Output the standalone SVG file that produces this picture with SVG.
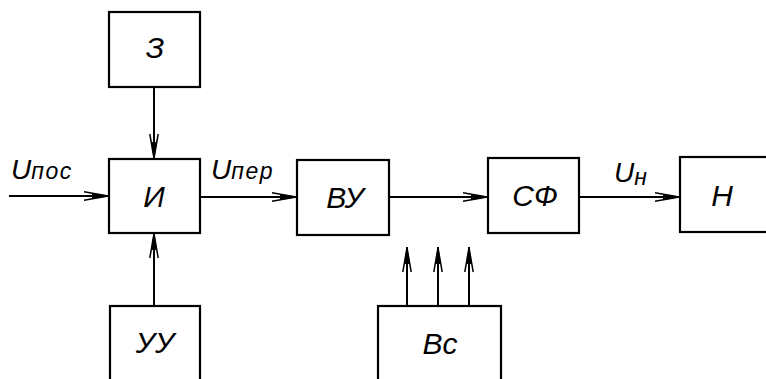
<svg xmlns="http://www.w3.org/2000/svg" width="766" height="379" viewBox="0 0 766 379">
<style>
.box{fill:#fff;stroke:#000;stroke-width:2.2}
.ln{stroke:#000;stroke-width:2;fill:none}
.t{font-family:"Liberation Sans",Arial,sans-serif;font-style:italic;font-size:30px;fill:#000;text-anchor:middle}
.lbl{font-family:"Liberation Sans",Arial,sans-serif;font-style:italic;font-size:28px;fill:#000}
.sub{font-size:23px;letter-spacing:1.5px}
</style>
<defs>
<marker id="ar" viewBox="0 0 26 12" refX="26" refY="6" markerWidth="26" markerHeight="12" markerUnits="userSpaceOnUse" orient="auto">
<path d="M1,1.8 L25,6 L1,10.2" fill="none" stroke="#000" stroke-width="1.5"/>
<path d="M9,3.6 L17,4 L26,6 L17,8 L9,8.4 Z" fill="#000"/>
</marker>
</defs>
<g id="connectors">
<line class="ln" x1="9" y1="196" x2="109" y2="196" marker-end="url(#ar)"/>
<line class="ln" x1="154" y1="87" x2="154" y2="159" marker-end="url(#ar)"/>
<line class="ln" x1="154" y1="306" x2="154" y2="233" marker-end="url(#ar)"/>
<line class="ln" x1="200" y1="197" x2="297" y2="197" marker-end="url(#ar)"/>
<line class="ln" x1="389" y1="197" x2="488" y2="197" marker-end="url(#ar)"/>
<line class="ln" x1="579" y1="197" x2="680" y2="197" marker-end="url(#ar)"/>
<line class="ln" x1="407" y1="306" x2="407" y2="247" marker-end="url(#ar)"/>
<line class="ln" x1="438" y1="306" x2="438" y2="247" marker-end="url(#ar)"/>
<line class="ln" x1="469" y1="306" x2="469" y2="247" marker-end="url(#ar)"/>
<text class="lbl" x="11" y="179">U<tspan class="sub">пос</tspan></text>
<text class="lbl" x="211" y="179">U<tspan class="sub">пер</tspan></text>
<text class="lbl" x="614" y="182">U<tspan class="sub" dy="3">н</tspan></text>
</g>
<g id="node-z"><rect class="box" x="109" y="12" width="91" height="75"/><text class="t" x="155" y="58">З</text></g>
<g id="node-i"><rect class="box" x="109" y="159" width="91" height="74"/><text class="t" x="154" y="207">И</text></g>
<g id="node-uu"><rect class="box" x="110" y="306" width="90" height="80"/><text class="t" x="155" y="353">УУ</text></g>
<g id="node-vu"><rect class="box" x="297" y="160" width="92" height="75"/><text class="t" x="345" y="208">ВУ</text></g>
<g id="node-sf"><rect class="box" x="488" y="158" width="91" height="75"/><text class="t" x="535" y="206">СФ</text></g>
<g id="node-n"><rect class="box" x="680" y="157" width="95" height="75"/><text class="t" x="722" y="206">Н</text></g>
<g id="node-vs"><rect class="box" x="378" y="306" width="123" height="80"/><text class="t" x="440" y="354">Вс</text></g>
</svg>
